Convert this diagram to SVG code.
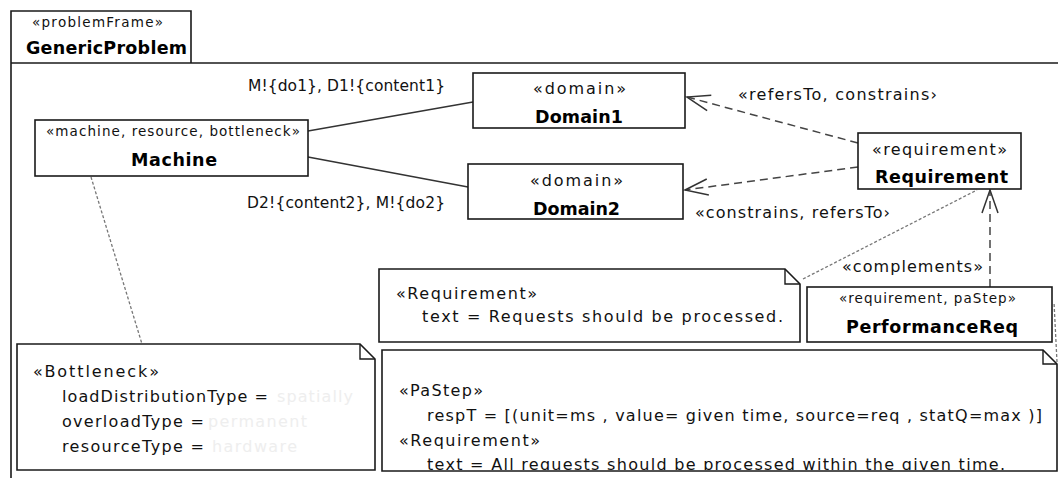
<svg xmlns="http://www.w3.org/2000/svg" width="1058" height="478" viewBox="0 0 1058 478">
<style>
 text{font-family:"DejaVu Sans","Liberation Sans",sans-serif;fill:#111}
 .st{font-size:16px}
 .sts{font-size:13.5px}
 .nm{font-size:17.5px;font-weight:bold;fill:#000}
 .lb{font-size:15.5px}
 .nt{font-size:16px}
 .faint{fill:#eeeeee}
 .box{fill:#fff;stroke:#1a1a1a;stroke-width:1.6}
 .frame{fill:none;stroke:#1a1a1a;stroke-width:1.6}
 .assoc{stroke:#333;stroke-width:1.5;fill:none}
 .dep{stroke:#444;stroke-width:1.5;stroke-dasharray:8 5;fill:none}
 .anchor{stroke:#777;stroke-width:1.3;stroke-dasharray:3 2;fill:none}
 .fold{fill:none;stroke:#1a1a1a;stroke-width:1.4}
</style>
<defs>
 <marker id="open" markerUnits="userSpaceOnUse" markerWidth="32" markerHeight="24" viewBox="-26 -12 30 24" refX="0" refY="0" orient="auto">
  <path d="M -23 -8 L 0 0 L -23 8" fill="none" stroke="#333" stroke-width="1.5" stroke-dasharray="none"/>
 </marker>
 <clipPath id="pasClip"><rect x="382" y="350" width="675" height="120"/></clipPath>
</defs>

<g id="frame">
 <path class="frame" d="M11,478 V11 H191 V63"/>
 <path class="frame" d="M11,63 H1058"/>
 <text class="sts" x="32" y="27" textLength="131">«problemFrame»</text>
 <text class="nm" x="26" y="54" textLength="161">GenericProblem</text>
</g>

<g id="connectors">
 <line class="assoc" x1="308" y1="131" x2="473" y2="102"/>
 <line class="assoc" x1="308" y1="157" x2="468" y2="187"/>
 <text class="lb" x="248" y="91" textLength="197">M!{do1}, D1!{content1}</text>
 <text class="lb" x="247" y="208" textLength="198">D2!{content2}, M!{do2}</text>
 <line class="dep" x1="858" y1="143" x2="687" y2="97" marker-end="url(#open)"/>
 <line class="dep" x1="858" y1="167" x2="685" y2="190" marker-end="url(#open)"/>
 <line class="dep" x1="990" y1="287" x2="990" y2="190" marker-end="url(#open)"/>
 <text class="st" x="738" y="100" textLength="199">«refersTo, constrains›</text>
 <text class="st" x="695" y="218" textLength="195">«constrains, refersTo›</text>
 <text class="st" x="842" y="272" textLength="141">«complements»</text>
 <line class="anchor" x1="803" y1="279" x2="977" y2="190"/>
 <line class="anchor" x1="91" y1="177" x2="142" y2="344"/>
 <line class="anchor" x1="1057" y1="362" x2="1054" y2="302"/>
</g>

<g id="machine">
 <rect class="box" x="35" y="120" width="273" height="56"/>
 <text class="sts" x="46" y="136" textLength="254">«machine, resource, bottleneck»</text>
 <text class="nm" x="131" y="166" textLength="86">Machine</text>
</g>

<g id="domain1">
 <rect class="box" x="473" y="73" width="212" height="55"/>
 <text class="st" x="533" y="94" textLength="93">«domain»</text>
 <text class="nm" x="535" y="123" textLength="88">Domain1</text>
</g>

<g id="domain2">
 <rect class="box" x="468" y="164" width="215" height="55"/>
 <text class="st" x="530" y="186" textLength="93">«domain»</text>
 <text class="nm" x="533" y="215" textLength="87">Domain2</text>
</g>

<g id="requirement">
 <rect class="box" x="858" y="133" width="163" height="56"/>
 <text class="st" x="872" y="155" textLength="135">«requirement»</text>
 <text class="nm" x="875" y="183" textLength="133">Requirement</text>
</g>

<g id="performanceReq">
 <rect class="box" x="807" y="287" width="245" height="55"/>
 <text class="sts" x="839" y="303" textLength="177">«requirement, paStep»</text>
 <text class="nm" x="846" y="333" textLength="172">PerformanceReq</text>
</g>

<g id="noteRequirement">
 <path class="box" d="M379,269 H785 L800,284 V342 H379 Z"/>
 <path class="fold" d="M785,269 V284 H800"/>
 <text class="nt" x="396" y="299" textLength="141">«Requirement»</text>
 <text class="nt" x="422" y="322" textLength="361">text = Requests should be processed.</text>
</g>

<g id="noteBottleneck">
 <path class="box" d="M17,344 H360 L375,359 V470 H17 Z"/>
 <path class="fold" d="M360,344 V359 H375"/>
 <text class="nt" x="33" y="377" textLength="126">«Bottleneck»</text>
 <text class="nt" x="62" y="402" textLength="206">loadDistributionType =</text>
 <text class="nt faint" x="277" y="402" textLength="76">spatially</text>
 <text class="nt" x="62" y="427" textLength="142">overloadType =</text>
 <text class="nt faint" x="208" y="427" textLength="99">permanent</text>
 <text class="nt" x="62" y="452" textLength="142">resourceType =</text>
 <text class="nt faint" x="212" y="452" textLength="85">hardware</text>
</g>

<g id="notePaStep">
 <path class="box" d="M382,350 H1043 L1057,364 V471 H382 Z"/>
 <path class="fold" d="M1043,350 V364 H1057"/>
 <g clip-path="url(#pasClip)">
  <text class="nt" x="399" y="396" textLength="84">«PaStep»</text>
  <text class="nt" x="427" y="421" textLength="615">respT = [(unit=ms , value= given time, source=req , statQ=max )]</text>
  <text class="nt" x="399" y="446" textLength="141">«Requirement»</text>
  <text class="nt" x="427" y="470" textLength="578">text = All requests should be processed within the given time.</text>
 </g>
</g>
</svg>
